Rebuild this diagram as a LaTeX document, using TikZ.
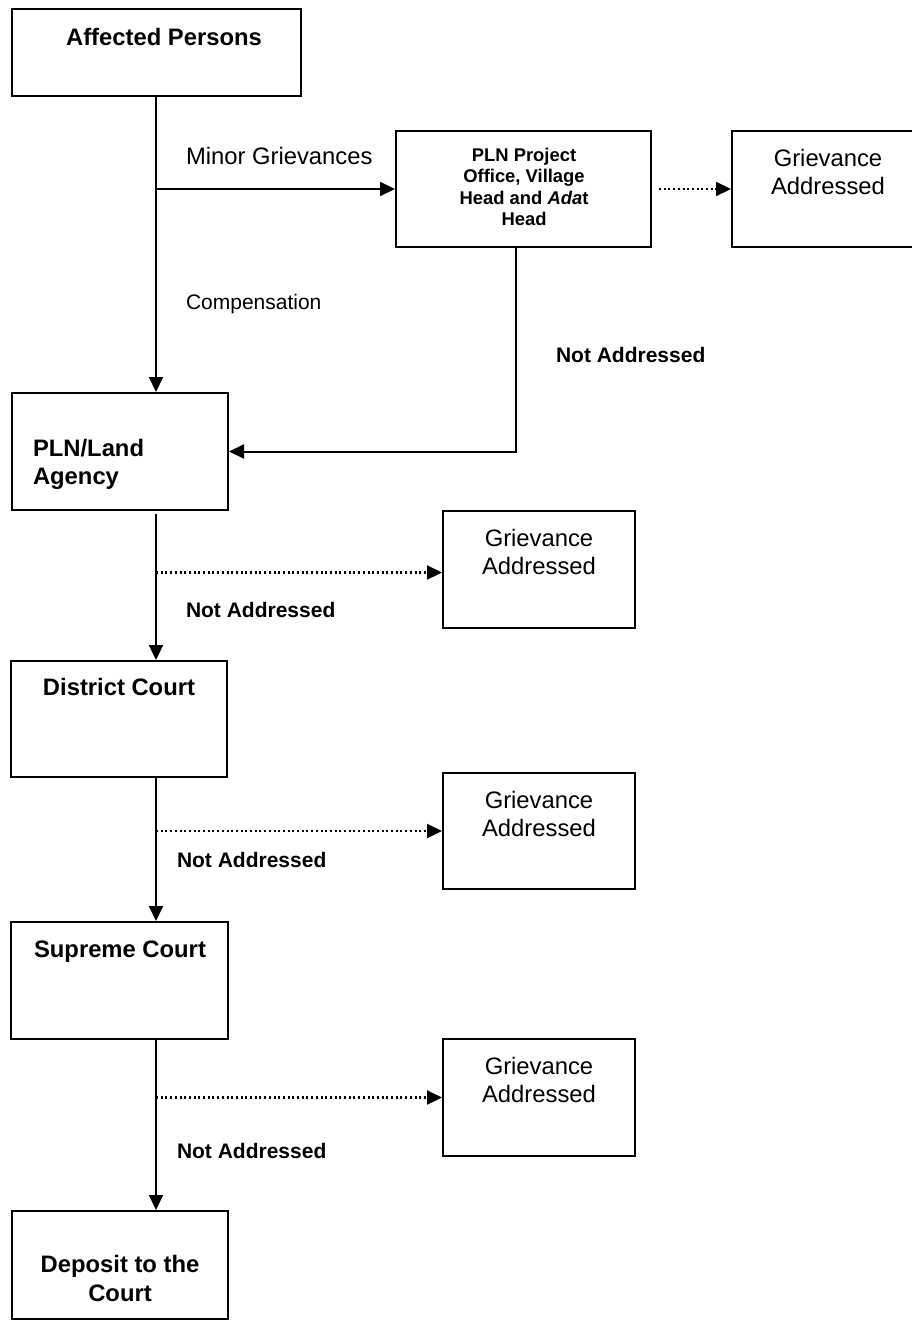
\documentclass[tikz,border=0pt]{standalone}
\usepackage{fontspec}
\setmainfont{Liberation Sans}
\usetikzlibrary{arrows.meta,fit}
\newcommand\fbig{\fontsize{23.8}{28.5}\selectfont}
\newcommand\fmid{\fontsize{21}{25}\selectfont}
\newcommand\fsml{\fontsize{18.4}{21.5}\selectfont}
\begin{document}
\begin{tikzpicture}[x=1pt,y=-1pt,line width=2pt,
  box/.style={draw,inner sep=0pt},
  txt/.style={inner sep=0pt},
  arr/.style={-{Triangle[length=15pt,width=14pt]}},
  dotarr/.style={line width=2.2pt,dash pattern=on 2pt off 2.7pt,-{Triangle[length=15pt,width=14pt]}}]
\clip (0,0) rectangle (912,1322);
\fill[white] (0,0) rectangle (912,1322);
% boxes
\node[box,fit={(12,9) (301,96)}] (ap) {};
\node[box,fit={(396,131) (651,247)}] (pln) {};
\node[box,fit={(732,131) (924,247)}] (g1) {};
\node[box,fit={(12,393) (228,510)}] (land) {};
\node[box,fit={(443,511) (635,628)}] (g2) {};
\node[box,fit={(11,661) (227,777)}] (dc) {};
\node[box,fit={(443,773) (635,889)}] (g3) {};
\node[box,fit={(11,922) (228,1039)}] (sc) {};
\node[box,fit={(443,1039) (635,1156)}] (g4) {};
\node[box,fit={(12,1211) (228,1319)}] (dep) {};
% texts
\node[txt,font=\fbig\bfseries,anchor=north] (apt) at (164,27) {Affected Persons};
\node[txt,font=\fbig,anchor=north west] (mg) at (185,146) {Minor Grievances};
\node[txt,font=\fmid,anchor=north west] (cp) at (185,293) {Compensation};
\node[txt,font=\fmid\bfseries,anchor=north west] (na1) at (555,346) {Not Addressed};
\node[txt,font=\fsml\bfseries,align=center,anchor=north] (plnt) at (524,147) {PLN Project\\Office, Village\\Head and \textit{Ada}t\\Head};
\node[txt,font=\fbig,align=center,anchor=north] (g1t) at (828,148) {Grievance\\Addressed};
\node[txt,font=\fbig\bfseries,align=left,anchor=north west] (landt) at (32,438) {PLN/Land\\Agency};
\node[txt,font=\fbig,align=center,anchor=north] (g2t) at (539,528) {Grievance\\Addressed};
\node[txt,font=\fmid\bfseries,anchor=north west] (na2) at (185,601) {Not Addressed};
\node[txt,font=\fbig\bfseries,anchor=north] (dct) at (119,677) {District Court};
\node[txt,font=\fbig,align=center,anchor=north] (g3t) at (539,790) {Grievance\\Addressed};
\node[txt,font=\fmid\bfseries,anchor=north west] (na3) at (176,851) {Not Addressed};
\node[txt,font=\fbig\bfseries,anchor=north] (sct) at (120,939.5) {Supreme Court};
\node[txt,font=\fbig,align=center,anchor=north] (g4t) at (539,1056) {Grievance\\Addressed};
\node[txt,font=\fmid\bfseries,anchor=north west] (na4) at (176,1142.5) {Not Addressed};
\node[txt,font=\fbig\bfseries,align=center,anchor=north] (dept) at (120,1254.5) {Deposit to the\\Court};
% connectors
\coordinate (vx) at (156,0);
\draw[arr] (ap.south -| vx) -- (vx |- land.north);
\coordinate (j1) at (vx |- pln.west);
\draw[arr] (j1) -- (pln.west);
\draw[dotarr] ([xshift=7pt]pln.east) -- (g1.west);
\coordinate (r1) at (516,247);
\draw[arr] (r1) -- (r1 |- land.east) -- (land.east);
\draw[arr] ([yshift=-3pt]land.south -| vx) -- (vx |- dc.north);
\coordinate (d2) at (156,572.5);
\draw[dotarr] (d2) -- (d2 -| g2.west);
\draw[arr] (dc.south -| vx) -- (vx |- sc.north);
\draw[dotarr] (vx |- g3.west) -- (g3.west);
\draw[arr] (sc.south -| vx) -- (vx |- dep.north);
\draw[dotarr] (vx |- g4.west) -- (g4.west);
\end{tikzpicture}
\end{document}
